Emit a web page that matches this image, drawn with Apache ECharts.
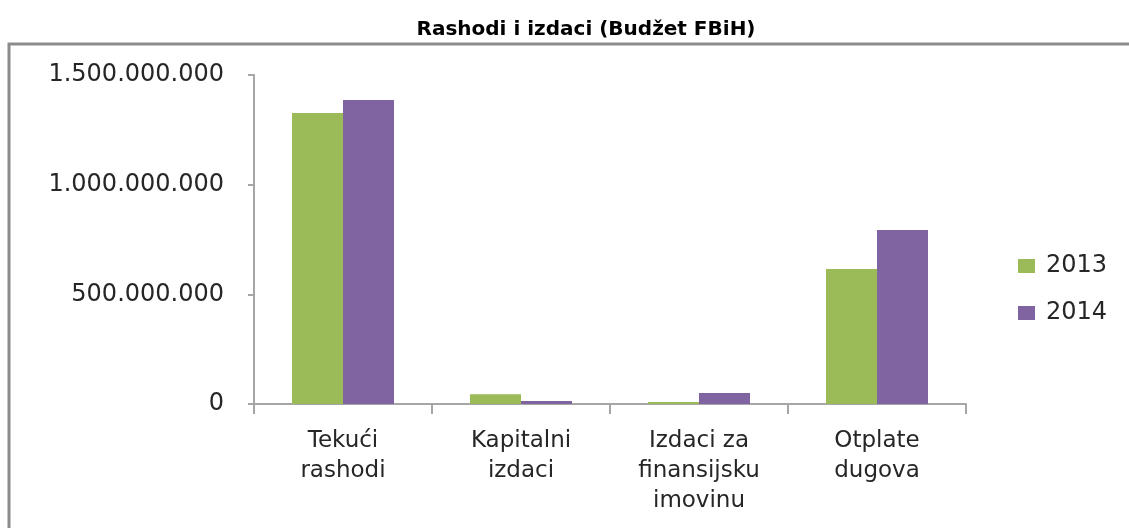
<!DOCTYPE html>
<html style="height: 100%">
<head>
    <meta charset="utf-8">
    <title>Rashodi i izdaci (Budžet FBiH)</title>
</head>
<body style="height: 100%; margin: 0; background: #fff">
    <div id="container" style="width: 1129px; height: 528px"></div>
    <script src="https://cdn.jsdelivr.net/npm/echarts@6/dist/echarts.min.js"></script>
    <script type="text/javascript">
        var categories = ['Tekući\nrashodi', 'Kapitalni\nizdaci', 'Izdaci za\nfinansijsku\nimovinu', 'Otplate\ndugova'];
        var values2013 = [1327000000, 45000000, 9000000, 615000000];
        var values2014 = [1386000000, 14000000, 50000000, 793000000];
        var yTicks = [0, 500000000, 1000000000, 1500000000];

        function fmt(v) {
            return String(v).replace(/\B(?=(\d{3})+(?!\d))/g, '.');
        }

        var dom = document.getElementById('container');
        var myChart = echarts.init(dom);
        var labelFont = '"DejaVu Sans", sans-serif';

        var option = {
            animation: false,
            backgroundColor: '#fff',
            title: {
                text: 'Rashodi i izdaci (Budžet FBiH)',
                left: 581,
                textAlign: 'center',
                top: 15,
                textStyle: {
                    fontFamily: '"DejaVu Sans", sans-serif',
                    fontWeight: 'bold',
                    fontSize: 20,
                    color: '#000'
                }
            },
            graphic: [{
                type: 'rect',
                shape: { x: 9, y: 44, width: 1140, height: 520 },
                style: { fill: 'none', stroke: '#8c8c8c', lineWidth: 3 },
                silent: true
            }],
            legend: {
                orient: 'vertical',
                left: 1018,
                top: 254,
                padding: 0,
                itemWidth: 17,
                itemHeight: 14,
                itemGap: 23,
                icon: 'rect',
                textStyle: { fontFamily: labelFont, fontSize: 24, color: '#262626', padding: [0, 0, 0, 6] },
                data: ['2013', '2014']
            },
            grid: {
                left: 254,
                right: 163,
                top: 75,
                bottom: 124
            },
            xAxis: {
                type: 'category',
                data: categories,
                axisLine: { lineStyle: { color: '#a6a6a6', width: 2 } },
                axisTick: { show: true, length: 10, lineStyle: { color: '#a6a6a6', width: 2 } },
                axisLabel: {
                    fontFamily: labelFont,
                    fontSize: 23,
                    color: '#262626',
                    lineHeight: 30,
                    margin: 22
                }
            },
            yAxis: {
                type: 'value',
                min: yTicks[0],
                max: yTicks[yTicks.length - 1],
                interval: yTicks[1] - yTicks[0],
                splitLine: { show: false },
                axisLine: { show: true, lineStyle: { color: '#a6a6a6', width: 2 } },
                axisTick: { show: true, length: 6, lineStyle: { color: '#a6a6a6', width: 2 } },
                axisLabel: {
                    fontFamily: labelFont,
                    fontSize: 24,
                    color: '#262626',
                    margin: 30,
                    formatter: fmt
                }
            },
            series: [{
                name: '2013',
                type: 'bar',
                data: values2013,
                barWidth: 51,
                barGap: '0%',
                itemStyle: { color: '#9bbb59' }
            }, {
                name: '2014',
                type: 'bar',
                data: values2014,
                barWidth: 51,
                itemStyle: { color: '#8064a2' }
            }]
        };

        myChart.setOption(option);
    </script>
</body>
</html>
